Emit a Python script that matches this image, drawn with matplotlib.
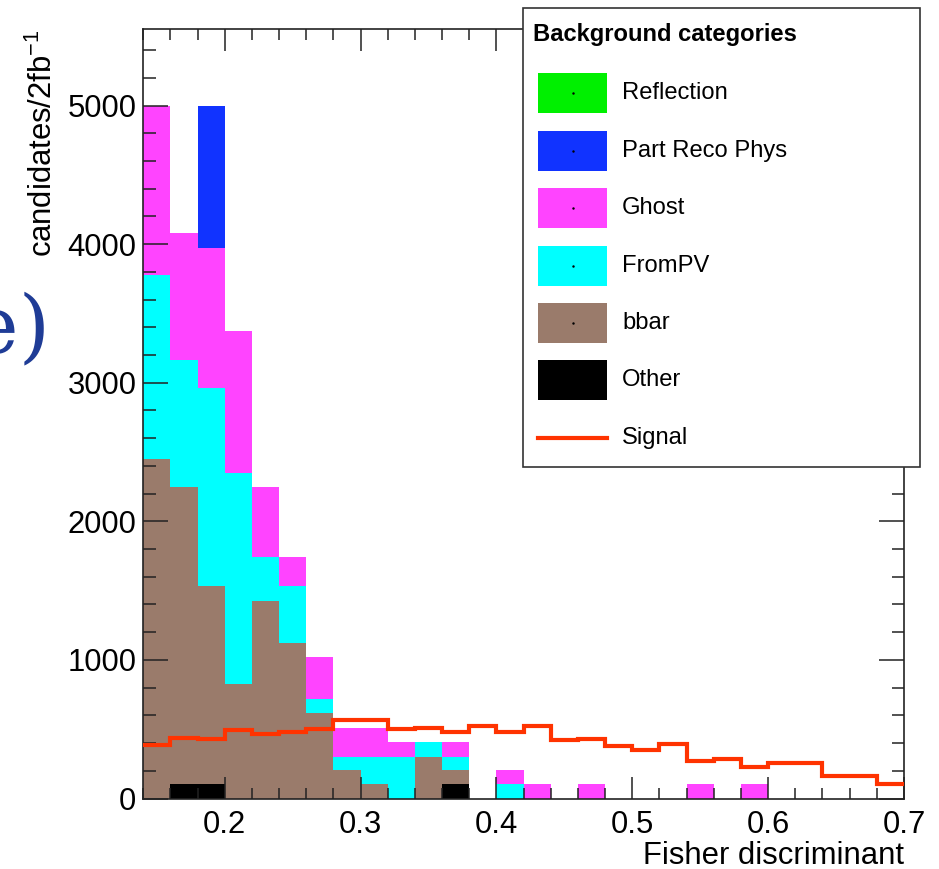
import numpy as np
import matplotlib
matplotlib.use('Agg')
import matplotlib.pyplot as plt
from matplotlib.patches import Rectangle
from matplotlib.ticker import MultipleLocator, FormatStrFormatter

plt.rcParams['font.family'] = ['Liberation Sans', 'DejaVu Sans']
plt.rcParams['mathtext.fontset'] = 'custom'
plt.rcParams['mathtext.rm'] = 'Liberation Sans'

# Fisher discriminant binning (28 bins of 0.02)
edges = np.round(np.linspace(0.14, 0.70, 29), 2)

# background categories, candidates per bin
other = [0, 105, 105, 0, 0, 0, 0, 0, 0, 0, 0, 105, 0, 0,
         0, 0, 0, 0, 0, 0, 0, 0, 0, 0, 0, 0, 0, 0]
bbar = [2450, 2145, 1430, 825, 1425, 1125, 620, 205, 105, 0, 300, 100, 0, 0,
        0, 0, 0, 0, 0, 0, 0, 0, 0, 0, 0, 0, 0, 0]
frompv = [1325, 915, 1425, 1525, 315, 410, 95, 95, 195, 300, 105, 95, 0, 105,
          0, 0, 0, 0, 0, 0, 0, 0, 0, 0, 0, 0, 0, 0]
ghost = [1225, 915, 1015, 1020, 510, 205, 305, 210, 210, 105, 0, 105, 0, 100,
         105, 0, 105, 0, 0, 0, 105, 0, 105, 0, 0, 0, 0, 0]
partreco = [0, 0, 1025, 0, 0, 0, 0, 0, 0, 0, 0, 0, 0, 0,
            0, 0, 0, 0, 0, 0, 0, 0, 0, 0, 0, 0, 0, 0]
reflection = [0] * 28

# signal shape
signal = [385, 440, 430, 495, 465, 478, 500, 567, 567, 500, 510, 477, 523, 477,
          523, 422, 432, 377, 347, 391, 271, 283, 225, 254, 254, 160, 160, 105]

labels = ['Reflection', 'Part Reco Phys', 'Ghost', 'FromPV', 'bbar', 'Other']
colors = ['#00f000', '#1133ff', '#ff44ff', '#00ffff', '#9a7b6b', '#000000']
sig_color = '#ff3300'

W, H = 939, 869
fig = plt.figure(figsize=(W / 100, H / 100), dpi=100)
ax = fig.add_axes([143.3 / W, 1 - 798.5 / H, (904 - 143.3) / W, (798.5 - 29.3) / H])

# stack from the bottom up: Other, bbar, FromPV, Ghost, Part Reco, Reflection
stack = [other, bbar, frompv, ghost, partreco, reflection]
bottom = np.zeros(len(edges) - 1)
for vals, col in zip(stack, colors[::-1]):
    top = bottom + np.array(vals)
    ax.stairs(top, edges, baseline=bottom, fill=True, color=col, lw=0)
    bottom = top

ax.stairs(signal, edges, baseline=None, color=sig_color, lw=3, zorder=3)

ax.set_xlim(0.14, 0.70)
ax.set_ylim(0, 5550)
ax.xaxis.set_major_locator(MultipleLocator(0.1))
ax.xaxis.set_minor_locator(MultipleLocator(0.02))
ax.xaxis.set_major_formatter(FormatStrFormatter('%.1f'))
ax.yaxis.set_major_locator(MultipleLocator(1000))
ax.yaxis.set_minor_locator(MultipleLocator(200))
ax.yaxis.set_major_formatter(FormatStrFormatter('%d'))

ax.tick_params(which='both', direction='in', top=True, right=True, color='#222222')
ax.tick_params(axis='x', which='major', length=16, width=1.1, labelsize=22.3, pad=8)
ax.tick_params(axis='x', which='minor', length=8, width=1.1)
ax.tick_params(axis='y', which='major', length=18, width=1.1, labelsize=22.3, pad=5)
ax.tick_params(axis='y', which='minor', length=9, width=1.1)
for s in ax.spines.values():
    s.set_linewidth(1.2)
    s.set_color('#222222')

ax.set_xlabel('Fisher discriminant', fontsize=22.3, loc='right', labelpad=1)
ax.set_ylabel('candidates/2fb$^{\\mathregular{-1}}$', fontsize=22.3, loc='top', labelpad=6)

# legend box drawn in pixel coordinates on an overlay
lax = fig.add_axes([0, 0, 1, 1], zorder=5)
lax.set_xlim(0, W)
lax.set_ylim(H, 0)
lax.axis('off')
lax.add_patch(Rectangle((523, 7.5), 396.5, 459, fc='white', ec='#333333', lw=1.2))
lax.text(533, 35, 'Background categories', fontsize=17.1, fontweight='bold',
         va='center', ha='left')
for i, (lab, col) in enumerate(zip(labels, colors)):
    yc = 93.3 + 57.4 * i
    lax.add_patch(Rectangle((538, yc - 20), 69, 40, fc=col, ec='none'))
    lax.plot([572.5], [yc], marker='.', ms=1.5, color='k')
    lax.text(622, yc, lab, fontsize=17.1, va='center', ha='left')
ysig = 93.3 + 57.4 * 6
lax.plot([538, 607], [ysig, ysig], color=sig_color, lw=3)
lax.text(622, ysig, 'Signal', fontsize=17.1, va='center', ha='left')

fig.text(50 / W, 1 - 330 / H, 'e)', fontsize=58, family='DejaVu Serif',
         color='#1f3c96', ha='right', va='center')

fig.savefig('out.png', dpi=100)
